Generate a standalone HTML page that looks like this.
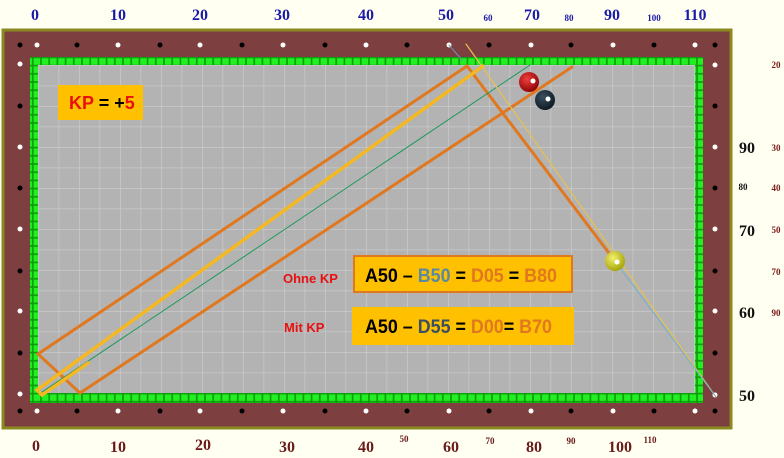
<!DOCTYPE html>
<html><head><meta charset="utf-8"><style>
html,body{margin:0;padding:0;background:#fffff2;}
svg{display:block;}
.t{font-family:"Liberation Serif",serif;font-weight:bold;}
.s{font-family:"Liberation Sans",sans-serif;font-weight:bold;}
</style></head><body>
<svg width="784" height="458" viewBox="0 0 784 458" xmlns="http://www.w3.org/2000/svg">
<defs>
<pattern id="g" x="38" y="65" width="20.5" height="20.5" patternUnits="userSpaceOnUse">
<rect width="20.5" height="20.5" fill="#b3b3b3"/>
<path d="M0 0H20.5M0 0V20.5" stroke="#c9c9c9" stroke-width="1.5"/>
</pattern>
<pattern id="gc" x="0" y="0" width="8.2" height="8.2" patternUnits="userSpaceOnUse">
<rect width="8.2" height="8.2" fill="#0c9a0c"/>
<rect x="0.8" y="0.8" width="6.6" height="6.6" fill="#22ee22"/>
</pattern>
<radialGradient id="br" cx="0.4" cy="0.35" r="0.7"><stop offset="0" stop-color="#f04040"/><stop offset="1" stop-color="#8a0000"/></radialGradient>
<radialGradient id="bk" cx="0.4" cy="0.35" r="0.7"><stop offset="0" stop-color="#3a5060"/><stop offset="1" stop-color="#0c1820"/></radialGradient>
<radialGradient id="by" cx="0.4" cy="0.35" r="0.7"><stop offset="0" stop-color="#f4f070"/><stop offset="1" stop-color="#a0a000"/></radialGradient>
</defs>
<rect x="3" y="30" width="728" height="398" fill="#7d3f3f" stroke="#8a8a20" stroke-width="3"/>
<rect x="30" y="57" width="673" height="346" fill="url(#gc)"/>
<rect x="38" y="65" width="657" height="328" fill="url(#g)"/>
<g fill="#000">
<circle cx="20" cy="45" r="2.5"/><circle cx="77" cy="45" r="2.5"/><circle cx="160" cy="45" r="2.5"/><circle cx="242" cy="45" r="2.5"/><circle cx="325" cy="45" r="2.5"/><circle cx="407" cy="45" r="2.5"/><circle cx="489" cy="45" r="2.5"/><circle cx="571" cy="45" r="2.5"/><circle cx="654" cy="45" r="2.5"/><circle cx="715" cy="45" r="2.5"/>
<circle cx="20" cy="411" r="2.5"/><circle cx="77" cy="411" r="2.5"/><circle cx="160" cy="411" r="2.5"/><circle cx="242" cy="411" r="2.5"/><circle cx="325" cy="411" r="2.5"/><circle cx="407" cy="411" r="2.5"/><circle cx="489" cy="411" r="2.5"/><circle cx="571" cy="411" r="2.5"/><circle cx="654" cy="411" r="2.5"/><circle cx="715" cy="411" r="2.5"/>
<circle cx="20" cy="106" r="2.5"/><circle cx="20" cy="188" r="2.5"/><circle cx="20" cy="271" r="2.5"/><circle cx="20" cy="353" r="2.5"/>
<circle cx="715" cy="106" r="2.5"/><circle cx="715" cy="188" r="2.5"/><circle cx="715" cy="271" r="2.5"/><circle cx="715" cy="353" r="2.5"/>
</g>
<g fill="#fff">
<circle cx="37" cy="45" r="2.5"/><circle cx="118" cy="45" r="2.5"/><circle cx="200" cy="45" r="2.5"/><circle cx="283" cy="45" r="2.5"/><circle cx="366" cy="45" r="2.5"/><circle cx="449" cy="45" r="2.5"/><circle cx="531" cy="45" r="2.5"/><circle cx="613" cy="45" r="2.5"/><circle cx="695" cy="45" r="2.5"/>
<circle cx="37" cy="411" r="2.5"/><circle cx="118" cy="411" r="2.5"/><circle cx="200" cy="411" r="2.5"/><circle cx="283" cy="411" r="2.5"/><circle cx="366" cy="411" r="2.5"/><circle cx="449" cy="411" r="2.5"/><circle cx="531" cy="411" r="2.5"/><circle cx="613" cy="411" r="2.5"/><circle cx="695" cy="411" r="2.5"/>
<circle cx="20" cy="64" r="2.5"/><circle cx="20" cy="147" r="2.5"/><circle cx="20" cy="229" r="2.5"/><circle cx="20" cy="311" r="2.5"/><circle cx="20" cy="394" r="2.5"/>
<circle cx="715" cy="65" r="2.5"/><circle cx="715" cy="147" r="2.5"/><circle cx="715" cy="229" r="2.5"/><circle cx="715" cy="311" r="2.5"/><circle cx="715" cy="395" r="2.5"/>
</g>
<g fill="none" stroke-linecap="round">
<path d="M80 393L38 354L467 66L615 261" stroke="#e07820" stroke-width="3"/>
<path d="M80 393L572 67" stroke="#e07820" stroke-width="3"/>
<path d="M42 392L530 65" stroke="#1a9a5a" stroke-width="1"/>
<path d="M88 363L42 395L37 390L483 66" stroke="#f5b820" stroke-width="3.5"/>
<path d="M466 44L716 397" stroke="#e8c050" stroke-width="1.2"/>
<path d="M449 45L462 60" stroke="#7090b0" stroke-width="1"/>
<path d="M615 261L716 397" stroke="#70b0d0" stroke-width="1"/>
</g>
<circle cx="529" cy="82" r="10" fill="url(#br)"/><circle cx="533" cy="81" r="2.5" fill="#fff"/>
<circle cx="545" cy="100" r="10" fill="url(#bk)"/><circle cx="548" cy="99" r="2.5" fill="#fff"/>
<circle cx="615" cy="261" r="10" fill="url(#by)"/><circle cx="617" cy="262" r="2.5" fill="#fff"/>
<rect x="58" y="85" width="85" height="35" fill="#ffc000"/>
<text x="69" y="109" class="s" font-size="18" fill="#e81010">KP <tspan fill="#000">= +</tspan>5</text>
<rect x="354" y="256" width="218" height="36" fill="#ffc000" stroke="#e07820" stroke-width="2"/>
<text x="365" y="282" class="s" font-size="19" fill="#000" textLength="192" lengthAdjust="spacingAndGlyphs">A50 – <tspan fill="#5a8aa0">B50</tspan> = <tspan fill="#e07820">D05</tspan> = <tspan fill="#e07820">B80</tspan></text>
<rect x="352" y="307" width="222" height="38" fill="#ffc000"/>
<text x="365" y="333" class="s" font-size="19" fill="#000" textLength="187" lengthAdjust="spacingAndGlyphs">A50 – <tspan fill="#3a5060">D55</tspan> = <tspan fill="#e07820">D00</tspan>= <tspan fill="#e07820">B70</tspan></text>
<text x="283" y="283" class="s" font-size="13" fill="#e81010">Ohne KP</text>
<text x="284" y="332" class="s" font-size="13" fill="#e81010">Mit KP</text>
<g class="t" fill="#1a1aa8" font-size="16" text-anchor="middle">
<text x="35" y="20">0</text><text x="118" y="20">10</text><text x="200" y="20">20</text><text x="282" y="20">30</text><text x="366" y="20">40</text><text x="446" y="20">50</text><text x="532" y="20">70</text><text x="612" y="20">90</text><text x="695" y="20">110</text>
<text x="488" y="21" font-size="9">60</text><text x="569" y="21" font-size="9">80</text><text x="654" y="21" font-size="9">100</text>
</g>
<g class="t" fill="#111" font-size="16" text-anchor="middle">
<text x="747" y="153">90</text><text x="747" y="236">70</text><text x="747" y="318">60</text><text x="747" y="401">50</text>
<text x="743" y="190" font-size="9">80</text>
</g>
<g class="t" fill="#7a1a1a" font-size="9" text-anchor="middle">
<text x="776" y="68">20</text><text x="776" y="151">30</text><text x="776" y="191">40</text><text x="776" y="233">50</text><text x="776" y="275">70</text><text x="776" y="316">90</text>
</g>
<g class="t" fill="#6a1a1a" font-size="16" text-anchor="middle">
<text x="36" y="451">0</text><text x="118" y="452">10</text><text x="203" y="450">20</text><text x="287" y="452">30</text><text x="366" y="452">40</text><text x="451" y="452">60</text><text x="534" y="452">80</text><text x="620" y="452">100</text>
<text x="404" y="442" font-size="9">50</text><text x="490" y="444" font-size="9">70</text><text x="571" y="444" font-size="9">90</text><text x="650" y="443" font-size="9">110</text>
</g>
</svg>
</body></html>
